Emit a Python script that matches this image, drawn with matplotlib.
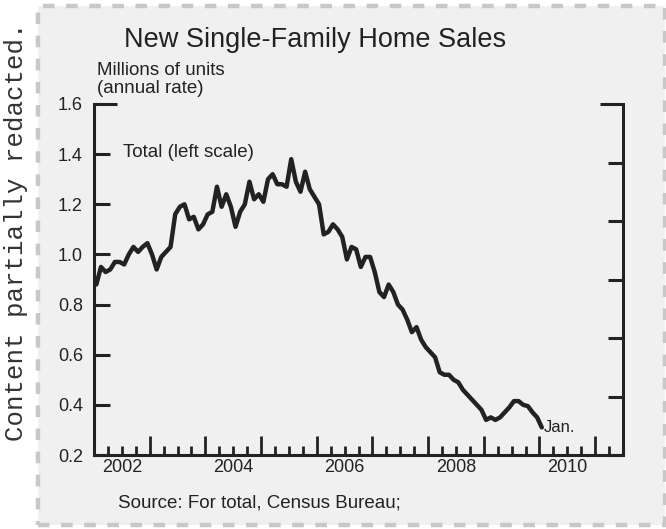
import numpy as np
import matplotlib
matplotlib.use("Agg")
import matplotlib.pyplot as plt
from matplotlib.patches import Rectangle
from matplotlib.transforms import blended_transform_factory

# monthly new single-family home sales, millions of units (annual rate), Jan 2002 .. Jan 2010
sales = [
    0.88, 0.95, 0.93, 0.94, 0.97, 0.97, 0.96, 1.00, 1.03, 1.01, 1.03, 1.045,   # 2002
    1.00, 0.94, 0.99, 1.01, 1.03, 1.16, 1.19, 1.20, 1.14, 1.15, 1.10, 1.12,    # 2003
    1.16, 1.17, 1.27, 1.19, 1.24, 1.19, 1.11, 1.17, 1.20, 1.29, 1.22, 1.24,    # 2004
    1.21, 1.30, 1.32, 1.28, 1.28, 1.27, 1.38, 1.29, 1.25, 1.33, 1.26, 1.23,    # 2005
    1.20, 1.08, 1.09, 1.12, 1.10, 1.07, 0.98, 1.03, 1.02, 0.95, 0.99, 0.99,    # 2006
    0.93, 0.85, 0.83, 0.88, 0.85, 0.80, 0.78, 0.74, 0.69, 0.71, 0.66, 0.63,    # 2007
    0.61, 0.59, 0.53, 0.52, 0.52, 0.50, 0.49, 0.46, 0.44, 0.42, 0.40, 0.38,    # 2008
    0.34, 0.35, 0.34, 0.35, 0.37, 0.39, 0.415, 0.415, 0.40, 0.395, 0.37, 0.35, # 2009
    0.31,                                                                       # Jan 2010
]
start_year = 2002
left_ticks = [0.2, 0.4, 0.6, 0.8, 1.0, 1.2, 1.4]
left_top = 1.6
year_labels = [2002, 2004, 2006, 2008, 2010]
year_ticks = list(range(2003, 2012))
quarter_ticks = [y + q for y in range(2002, 2012) for q in (0.25, 0.5, 0.75) if y + q < 2011.5]

INK = "#222222"
plt.rcParams["font.family"] = ["Liberation Sans", "DejaVu Sans"]

fig = plt.figure(figsize=(6.66, 5.29), dpi=100)
fig.patch.set_facecolor("white")
W, H = 666, 529

# dashed grey panel
panel = Rectangle((38 / W, 1 - 524.5 / H), (664.5 - 38) / W, (524.5 - 6) / H,
                  transform=fig.transFigure, facecolor="#f0f0f0", edgecolor="#c8c8c8",
                  lw=3.2, linestyle=(0, (2.6, 2.6)), zorder=-5)
fig.patches.append(panel)

ax = fig.add_axes([94 / W, 1 - 455 / H, (623 - 94) / W, (455 - 104) / H])
ax.set_facecolor("none")
x = start_year + (np.arange(len(sales)) + 0.5) / 12
ax.plot(x, sales, color=INK, lw=3.2, solid_joinstyle="round", solid_capstyle="round")
ax.set_xlim(2002, 2011.5)
ax.set_ylim(0.2, 1.6)

for s in ("top", "right"):
    ax.spines[s].set_visible(False)
for s in ("left", "bottom"):
    ax.spines[s].set_linewidth(2.2)
    ax.spines[s].set_color(INK)

ax.set_yticks(left_ticks)
ax.set_yticklabels(["%.1f" % v for v in left_ticks])
ax.set_yticks([left_top], minor=True)
ax.set_yticklabels(["%.1f" % left_top], minor=True)
ax.tick_params(axis="y", which="major", direction="in", length=11.5, width=2.2,
               color=INK, labelsize=13, labelcolor=INK, pad=8)
ax.tick_params(axis="y", which="minor", direction="in", length=16.5, width=2.2,
               color=INK, labelsize=13, labelcolor=INK, pad=8)

ax.set_xticks(year_ticks)
ax.set_xticklabels([])
ax.set_xticks(quarter_ticks, minor=True)
ax.tick_params(axis="x", which="major", direction="in", length=13.5, width=2.0, color=INK)
ax.tick_params(axis="x", which="minor", direction="in", length=6.5, width=2.0, color=INK)
tr = blended_transform_factory(ax.transData, ax.transAxes)
for yr in year_labels:
    ax.text(yr + 0.5, -0.012, str(yr), transform=tr, ha="center", va="top",
            fontsize=13, color=INK)

# right scale (series redacted), no labels
ax2 = ax.twinx()
ax2.set_ylim(0, 6)
for s in ("top", "left", "bottom"):
    ax2.spines[s].set_visible(False)
ax2.spines["right"].set_linewidth(2.2)
ax2.spines["right"].set_color(INK)
ax2.set_yticks(range(0, 6))
ax2.set_yticklabels([])
ax2.set_yticks([6], minor=True)
ax2.tick_params(axis="y", which="major", direction="in", length=10.8, width=2.2, color=INK)
ax2.tick_params(axis="y", which="minor", direction="in", length=16.5, width=2.2, color=INK)

ax.text(2010.08, 0.31, "Jan.", ha="left", va="center", fontsize=12, color=INK)
ax.text(123 / W, 1 - 152 / H, "Total (left scale)", transform=fig.transFigure,
        ha="left", va="center", fontsize=13.5, color=INK)

fig.text(315 / W, 1 - 40 / H, "New Single-Family Home Sales", ha="center", va="center",
         fontsize=19.5, color=INK)
fig.text(97 / W, 1 - 70.5 / H, "Millions of units", ha="left", va="center",
         fontsize=13.5, color=INK)
fig.text(97 / W, 1 - 88.5 / H, "(annual rate)", ha="left", va="center",
         fontsize=13.5, color=INK)
fig.text(118 / W, 1 - 503 / H, "Source: For total, Census Bureau;", ha="left", va="center",
         fontsize=13.5, color=INK)
fig.text(16 / W, 1 - 232 / H, "Content partially redacted.", rotation=90,
         ha="center", va="center", fontsize=18.5, color="#333333",
         family=["Liberation Mono", "DejaVu Sans Mono"])

fig.savefig("out.png", dpi=100)
